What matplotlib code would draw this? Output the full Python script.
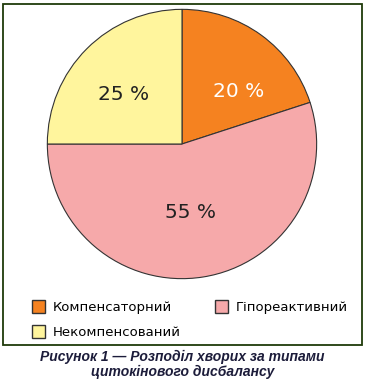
import numpy as np
import matplotlib.pyplot as plt
from matplotlib.patches import Rectangle

categories = ["Компенсаторний", "Гіпореактивний", "Некомпенсований"]
shares = [20, 55, 25]
colors = ["#F58220", "#F6A9AA", "#FFF59D"]
label_colors = ["white", "#222222", "#222222"]
caption = "Рисунок 1 — Розподіл хворих за типами\nцитокінового дисбалансу"

# where the percent labels sit: (radius fraction, angle in degrees)
label_place = [(0.574, 43.2), (0.511, -82.6), (0.571, 139.5)]

W, H = 365, 382
fig = plt.figure(figsize=(W / 100, H / 100), dpi=100)

# green frame round the chart
fig.patches.append(Rectangle((3 / W, 1 - 345 / H), 359 / W, 341 / H,
                             transform=fig.transFigure, fill=False,
                             edgecolor="#1f3a0a", linewidth=1.3))

ax = fig.add_axes([46 / W, 1 - 280 / H, 272 / W, 272 / H])
wedges, texts, autotexts = ax.pie(
    shares, colors=colors, startangle=90, counterclock=False,
    autopct=lambda p: f"{p:.0f} %",
    wedgeprops=dict(edgecolor="#333333", linewidth=0.8),
    textprops=dict(fontsize=14.5, family="DejaVu Sans"))
for t, c, (r, a) in zip(autotexts, label_colors, label_place):
    t.set_color(c)
    t.set_position((r * np.cos(np.radians(a)), r * np.sin(np.radians(a))))
ax.set_xlim(-1.01, 1.01)
ax.set_ylim(-1.01, 1.01)
ax.set_aspect("equal")
ax.axis("off")

# legend: orange, yellow in first column, pink in second
order = [0, 2, 1]
leg = fig.legend([wedges[i] for i in order], [categories[i] for i in order],
                 ncol=2, loc="upper left", bbox_to_anchor=(29 / W, 1 - 297 / H),
                 frameon=False, fontsize=9.5, handlelength=1.0, handleheight=1.15,
                 handletextpad=0.6, columnspacing=2.6, labelspacing=0.85,
                 borderpad=0.2, borderaxespad=0)
for h in leg.legend_handles:
    h.set_edgecolor("#333333")
    h.set_linewidth(1.0)

fig.text(0.5, 1 - 364.5 / H, caption, ha="center", va="center",
         fontsize=10, fontweight="bold", fontstyle="italic",
         family="Liberation Sans", color="#1c1c3a", linespacing=1.0)

fig.savefig("out.png", dpi=100)
